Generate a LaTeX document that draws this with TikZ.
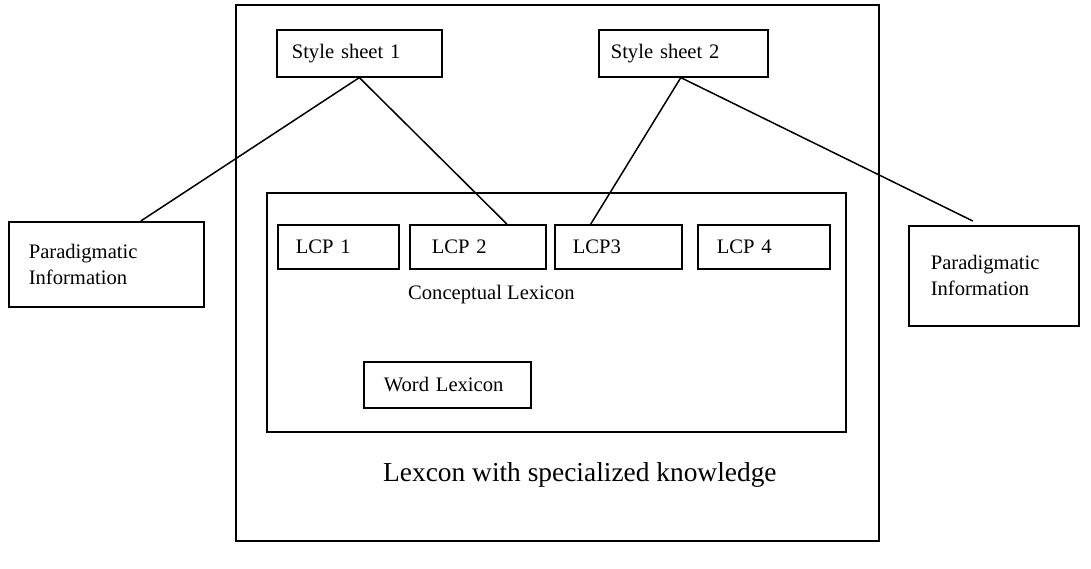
\documentclass[tikz,border=0pt]{standalone}
\usepackage{fontspec}
\setmainfont{Liberation Serif}
\begin{document}
\begin{tikzpicture}[x=1pt,y=-1pt,
  frame/.style={draw, line width=1.6pt, anchor=north west, inner sep=0pt},
  tbox/.style={draw, line width=1.6pt, anchor=north west, inner ysep=0pt,
    align=left, font=\fontsize{20.6}{26}\selectfont},
  link/.style={line width=1.5pt},
  lbl/.style={anchor=west, inner sep=0pt}]
\useasboundingbox (0,0) rectangle (1091,569);

% outer lexicon frame and the conceptual lexicon frame
\node[frame, minimum width=643pt, minimum height=536pt] (outer) at (235,4) {};
\node[frame, minimum width=579pt, minimum height=239pt] (concept) at (266,192) {};

% style sheets
\node[tbox, minimum height=47pt, inner xsep=15pt, text width=135pt] (ss1) at (276,29) {Style sheet 1};
\node[tbox, minimum height=47pt, inner xsep=12pt, text width=145pt] (ss2) at (598,29) {Style sheet 2};

% paradigmatic information boxes
\node[tbox, minimum height=85pt, inner xsep=20pt, text width=155pt] (pl) at (8,221) {Paradigmatic\\Information};
\node[tbox, minimum height=100pt, inner xsep=22pt, text width=126pt] (pr) at (908,225) {Paradigmatic\\Information};

% lexical conceptual paradigms
\node[tbox, minimum height=44pt, inner xsep=18pt, text width=85pt] (lcp1) at (277,224) {LCP 1};
\node[tbox, minimum height=44pt, inner xsep=22pt, text width=92pt] (lcp2) at (409,224) {LCP 2};
\node[tbox, minimum height=44pt, inner xsep=18pt, text width=91pt] (lcp3) at (554,224) {LCP3};
\node[tbox, minimum height=44pt, inner xsep=19pt, text width=94pt] (lcp4) at (697,224) {LCP 4};

% word lexicon
\node[tbox, minimum height=46pt, inner xsep=20pt, text width=127pt] (wl) at (363,361) {Word Lexicon};

% captions
\node[lbl, font=\fontsize{20.6}{26}\selectfont] (clabel) at (408,295) {Conceptual Lexicon};
\node[lbl, font=\fontsize{27.4}{32}\selectfont] (llabel) at (383,475) {Lexcon with specialized knowledge};

% connectors
\draw[link] (ss1.south) -- ([xshift=34.5pt]pl.north);
\draw[link] (ss1.south) -- ([xshift=29pt]lcp2.north);
\draw[link] ([xshift=-2.5pt]ss2.south) -- ([xshift=-27.5pt]lcp3.north);
\coordinate (prend) at ([xshift=-21pt,yshift=4pt]pr.north);
\draw[link] ([xshift=-2.5pt]ss2.south) -- (prend);
\end{tikzpicture}
\end{document}
